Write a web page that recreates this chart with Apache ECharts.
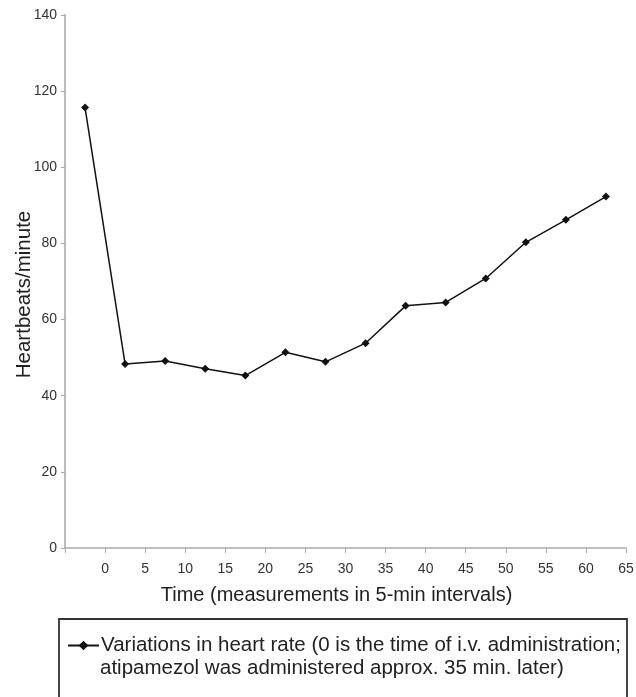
<!DOCTYPE html>
<html>
<head>
<meta charset="utf-8">
<script src="https://cdn.jsdelivr.net/npm/echarts@6/dist/echarts.min.js"></script>
<style>html,body{margin:0;padding:0;background:#fff;}#c{width:636px;height:697px;}</style>
</head>
<body>
<div id="c"></div>
<script>
var timePoints = [-2.5, 2.5, 7.5, 12.5, 17.5, 22.5, 27.5, 32.5, 37.5, 42.5, 47.5, 52.5, 57.5, 62.5];
var heartRate = [115.7, 48.3, 49.1, 47.1, 45.3, 51.4, 48.9, 53.8, 63.6, 64.5, 70.8, 80.3, 86.2, 92.3];
var seriesName = 'Variations in heart rate (0 is the time of i.v. administration;';
var legendLine2 = 'atipamezol was administered approx. 35 min. later)';
var xTitle = 'Time (measurements in 5-min intervals)';
var yTitle = 'Heartbeats/minute';

var chart = echarts.init(document.getElementById('c'), null, {renderer: 'canvas'});
var font = 'Liberation Sans, Arial, sans-serif';
chart.setOption({
  backgroundColor: '#fff',
  animation: false,
  grid: {left: 65, right: 10, top: 15, bottom: 149, containLabel: false, outerBoundsMode: 'none'},
  xAxis: {
    type: 'value', min: -5, max: 65, interval: 5,
    name: xTitle, nameLocation: 'middle', nameGap: 37, nameMoveOverlap: false,
    nameTextStyle: {fontFamily: font, fontSize: 20, color: '#222', padding: [0, 18, 0, 0]},
    axisLine: {show: true, onZero: false, lineStyle: {color: '#aaa', width: 1.5}},
    axisTick: {show: true, length: 5, lineStyle: {color: '#aaa'}},
    axisLabel: {fontFamily: font, fontSize: 14, color: '#333', margin: 14,
      formatter: function (v) { return v < 0 ? '' : String(v); }},
    splitLine: {show: false}
  },
  yAxis: {
    type: 'value', min: 0, max: 140, interval: 20,
    name: yTitle, nameLocation: 'middle', nameGap: 30, nameMoveOverlap: false,
    nameTextStyle: {fontFamily: font, fontSize: 20.5, color: '#222', padding: [0, 26, 0, 0]},
    axisLine: {show: true, onZero: false, lineStyle: {color: '#bbb', width: 2}},
    axisTick: {show: true, length: 4, lineStyle: {color: '#aaa'}},
    axisLabel: {fontFamily: font, fontSize: 14, color: '#333', margin: 8},
    splitLine: {show: false}
  },
  legend: {
    show: true, left: 67, top: 635,
    padding: 0,
    itemWidth: 31, itemHeight: 12, itemGap: 0,
    textStyle: {fontFamily: font, fontSize: 20.5, color: '#222', padding: [0, 0, 0, -3]},
    data: [seriesName]
  },
  graphic: [
    {type: 'rect', shape: {x: 59, y: 619, width: 568, height: 82},
     style: {fill: 'none', stroke: '#333', lineWidth: 1.8}, silent: true, z: 10},
    {type: 'text', x: 100, y: 668,
     style: {text: legendLine2, font: '20.5px ' + font, fill: '#222', verticalAlign: 'middle', align: 'left'},
     silent: true, z: 10}
  ],
  series: [{
    name: seriesName,
    type: 'line',
    data: timePoints.map(function (t, i) { return [t, heartRate[i]]; }),
    symbol: 'diamond', symbolSize: 8,
    lineStyle: {color: '#111', width: 1.5},
    itemStyle: {color: '#111'}
  }]
});
</script>
</body>
</html>
